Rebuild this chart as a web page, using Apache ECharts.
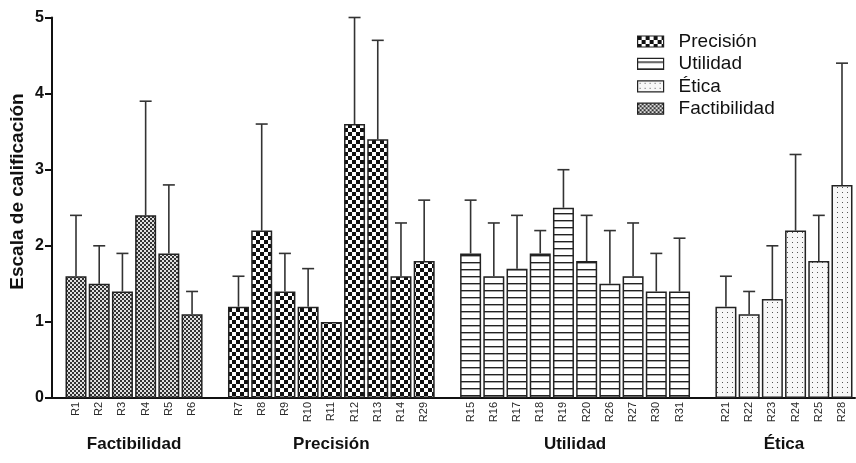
<!DOCTYPE html>
<html><head><meta charset="utf-8">
<script src="https://cdn.jsdelivr.net/npm/echarts@6/dist/echarts.min.js"></script>
<style>html,body{margin:0;padding:0;background:#fff}#c{width:856px;height:463px}</style>
</head><body><div id="c"></div>
<script>
const groupNames = ['Factibilidad', 'Precisión', 'Utilidad', 'Ética'];
const factLabels = ['R1','R2','R3','R4','R5','R6'];
const factValues = [1.6, 1.5, 1.4, 2.4, 1.9, 1.1];
const factUpper  = [2.4, 2.0, 1.9, 3.9, 2.8, 1.4];
const precLabels = ['R7','R8','R9','R10','R11','R12','R13','R14','R29'];
const precValues = [1.2, 2.2, 1.4, 1.2, 1.0, 3.6, 3.4, 1.6, 1.8];
const precUpper  = [1.6, 3.6, 1.9, 1.7, 1.0, 5.0, 4.7, 2.3, 2.6];
const utilLabels = ['R15','R16','R17','R18','R19','R20','R26','R27','R30','R31'];
const utilValues = [1.9, 1.6, 1.7, 1.9, 2.5, 1.8, 1.5, 1.6, 1.4, 1.4];
const utilUpper  = [2.6, 2.3, 2.4, 2.2, 3.0, 2.4, 2.2, 2.3, 1.9, 2.1];
const eticaLabels = ['R21','R22','R23','R24','R25','R28'];
const eticaValues = [1.2, 1.1, 1.3, 2.2, 1.8, 2.8];
const eticaUpper  = [1.6, 1.4, 2.0, 3.2, 2.4, 4.4];
const yMin = 0, yMax = 5, yInterval = 1;
const legendOrder = ['Precisión', 'Utilidad', 'Ética', 'Factibilidad'];
const yTitle = 'Escala de calificación';

function makePattern(w, h, draw) {
  const c = document.createElement('canvas');
  c.width = w; c.height = h;
  const ctx = c.getContext('2d');
  draw(ctx);
  return { image: c, repeat: 'repeat' };
}
const patFact = makePattern(4, 4, ctx => {
  ctx.fillStyle = '#e0e0e0'; ctx.fillRect(0, 0, 4, 4);
  ctx.fillStyle = '#333333'; ctx.fillRect(0, 0, 2, 2); ctx.fillRect(2, 2, 2, 2);
});
const patPrec = makePattern(8, 8, ctx => {
  ctx.fillStyle = '#ffffff'; ctx.fillRect(0, 0, 8, 8);
  ctx.fillStyle = '#111111'; ctx.fillRect(0, 0, 4, 4); ctx.fillRect(4, 4, 4, 4);
});
const patUtil = makePattern(4, 7, ctx => {
  ctx.fillStyle = '#ffffff'; ctx.fillRect(0, 0, 4, 7);
  ctx.fillStyle = '#222222'; ctx.fillRect(0, 3, 4, 1.4);
});
const patEtica = makePattern(5, 5, ctx => {
  ctx.fillStyle = '#f7f7f7'; ctx.fillRect(0, 0, 5, 5);
  ctx.fillStyle = '#555555'; ctx.fillRect(2, 2, 1, 1);
});

const groups = [
  { name: groupNames[0], labels: factLabels, values: factValues, upper: factUpper, pattern: patFact },
  { name: groupNames[1], labels: precLabels, values: precValues, upper: precUpper, pattern: patPrec },
  { name: groupNames[2], labels: utilLabels, values: utilValues, upper: utilUpper, pattern: patUtil },
  { name: groupNames[3], labels: eticaLabels, values: eticaValues, upper: eticaUpper, pattern: patEtica }
];

const categories = [];
const groupCenters = [];
groups.forEach((g, gi) => {
  if (gi > 0) categories.push(' '.repeat(gi));
  g.start = categories.length;
  g.labels.forEach(l => categories.push(l));
  groupCenters.push(g.start + (g.labels.length - 1) / 2);
});
const N = categories.length;
const errData = [];
const barSeries = groups.map(g => {
  const data = new Array(N).fill('-');
  g.values.forEach((v, i) => {
    data[g.start + i] = v;
    errData.push([g.start + i, v, g.upper[i]]);
  });
  return {
    name: g.name, type: 'bar', xAxisIndex: 0, yAxisIndex: 0,
    data: data, barWidth: 21, barGap: '-100%',
    itemStyle: { color: g.pattern, borderColor: '#222', borderWidth: 1.5 },
    emphasis: { disabled: true }, silent: true
  };
});

const FONT = 'Liberation Sans, Arial, sans-serif';
const chart = echarts.init(document.getElementById('c'), null, { renderer: 'canvas' });
chart.setOption({
  animation: false,
  backgroundColor: '#ffffff',
  grid: [
    { left: 64.4, right: 2.4, top: 17.5, bottom: 65 },
    { left: 52, right: 1, top: 17.5, bottom: 65 }
  ],
  xAxis: [
    { type: 'category', gridIndex: 0, data: categories,
      axisLine: { show: false }, axisTick: { show: false },
      axisLabel: { interval: 0, rotate: 90, fontSize: 11, color: '#2a2a2a', fontFamily: FONT, margin: 4 } },
    { type: 'value', gridIndex: 0, min: -0.5, max: N - 0.5, position: 'bottom',
      axisLine: { show: false }, axisTick: { show: false }, splitLine: { show: false },
      axisLabel: { customValues: groupCenters, margin: 38,
        formatter: v => { const i = groupCenters.findIndex(c => Math.abs(c - v) < 1e-6); return i >= 0 ? groupNames[i] : ''; },
        fontSize: 17, fontWeight: 'bold', color: '#111', fontFamily: FONT } },
    { type: 'value', gridIndex: 1, min: 0, max: 1,
      axisLine: { show: true, lineStyle: { color: '#111', width: 2 } },
      axisTick: { show: false }, axisLabel: { show: false }, splitLine: { show: false } }
  ],
  yAxis: [
    { type: 'value', gridIndex: 0, min: yMin, max: yMax, interval: yInterval, show: false },
    { type: 'value', gridIndex: 1, min: yMin, max: yMax, interval: yInterval,
      axisLine: { show: true, lineStyle: { color: '#111', width: 2 } },
      axisTick: { show: true, length: 7, lineStyle: { color: '#111', width: 2 } },
      splitLine: { show: false },
      axisLabel: { fontSize: 16, fontWeight: 'bold', color: '#111', fontFamily: FONT, margin: 8 } }
  ],
  legend: {
    orient: 'vertical', left: 637, top: 32, padding: 0, itemWidth: 26, itemHeight: 11, itemGap: 3.4,
    icon: 'rect', data: legendOrder, selectedMode: false,
    textStyle: { fontSize: 19, color: '#111', fontFamily: FONT, lineHeight: 19, padding: [0, 0, 0, 10] },
    itemStyle: { borderColor: '#222', borderWidth: 1.2 }
  },
  graphic: [{
    type: 'text', x: 18, y: 191.5, rotation: Math.PI / 2,
    style: { text: yTitle, font: 'bold 19px ' + FONT, fill: '#111', align: 'center', verticalAlign: 'middle' }
  }],
  series: barSeries.concat([{
    type: 'custom', xAxisIndex: 0, yAxisIndex: 0, silent: true, z: 5,
    data: errData, encode: { x: 0, y: [1, 2] },
    renderItem: (params, api) => {
      const x = api.value(0), v = api.value(1), u = api.value(2);
      if (!(u > v)) return null;
      const p0 = api.coord([x, v]), p1 = api.coord([x, u]);
      const hw = 6;
      const st = { stroke: '#333', lineWidth: 1.6 };
      return { type: 'group', children: [
        { type: 'line', shape: { x1: p0[0], y1: p0[1], x2: p1[0], y2: p1[1] }, style: st },
        { type: 'line', shape: { x1: p1[0] - hw, y1: p1[1], x2: p1[0] + hw, y2: p1[1] }, style: st }
      ] };
    }
  }])
});
</script></body></html>
